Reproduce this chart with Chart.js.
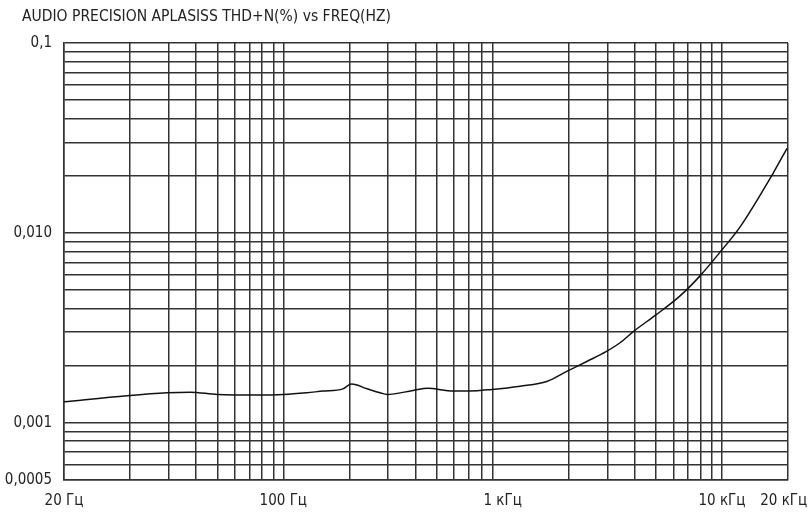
<!DOCTYPE html>
<html>
<head>
<meta charset="utf-8">
<script src="https://cdn.jsdelivr.net/npm/chart.js@4.4.1/dist/chart.umd.min.js"></script>
<style>
    body { margin: 0; background: #fff; }
    #wrap { position: relative; width: 808px; height: 513px; overflow: hidden; }
    #title {
        position: absolute; left: 22px; top: 7px;
        font-family: 'Liberation Sans Narrow', 'DejaVu Sans Condensed', sans-serif;
        font-size: 15.5px; color: #222; white-space: nowrap;
    }
</style>
</head>
<body>
<div id="wrap">
    <div id="title">AUDIO PRECISION APLASISS THD+N(%) vs FREQ(HZ)</div>
    <canvas id="thdChart" width="808" height="513"></canvas>
</div>
<script>
// Данные кривой THD+N
const freqs = [10, 19.4, 29.5, 37.6, 50, 78, 100, 128, 152, 187, 197, 205, 241, 276, 297,
    390, 455, 594, 710, 895, 1200, 1590, 1970, 2430, 2960, 3430, 3980, 5000, 6440, 7940,
    10000, 12100, 17100, 19800];
const thd = [0.00129, 0.00139, 0.00144, 0.00145, 0.00141, 0.00140, 0.00141, 0.00144, 0.00147,
    0.00151, 0.00157, 0.00160, 0.00151, 0.00144, 0.00141, 0.00148, 0.00152, 0.00147, 0.00147,
    0.00150, 0.00156, 0.00165, 0.00187, 0.00211, 0.00237, 0.00264, 0.00305, 0.00370, 0.00466,
    0.00594, 0.00815, 0.01076, 0.0206, 0.0279];

// Подписи осей (пробел в конце сдвигает подпись 20 кГц влево, как на оригинале)
const xTickValues = [10, 100, 1000, 10000, 20000];
const xTickLabels = ['20 Гц', '100 Гц', '1 кГц', '10 кГц', '20 кГц\u00A0\u00A0'];
const yTickValues = [0.0005, 0.001, 0.01, 0.1];
const yTickLabels = ['0,0005', '0,001', '0,010', '0,1'];

// Сетка: 1..9 в каждой декаде
const xGrid = [10];
[10, 100, 1000].forEach(d => { for (let k = 2; k <= 10; k++) xGrid.push(d * k); });
xGrid.push(20000);
const yGrid = [];
[0.0001, 0.001, 0.01].forEach(d => { for (let k = 1; k <= 9; k++) if (d * k >= 0.0005) yGrid.push(+(d * k).toPrecision(3)); });
yGrid.push(0.1);

const font = { family: "'Liberation Sans Narrow', 'DejaVu Sans Condensed', sans-serif", size: 15 };
const gridColor = '#333';

function labelFor(values, labels, v) {
    const i = values.findIndex(t => Math.abs(t - v) / t < 1e-6);
    return i >= 0 ? labels[i] : '';
}

new Chart(document.getElementById('thdChart'), {
    type: 'line',
    data: {
        datasets: [{
            data: freqs.map((f, i) => ({ x: f, y: thd[i] })),
            borderColor: '#111',
            borderWidth: 1.5,
            pointRadius: 0,
            cubicInterpolationMode: 'monotone',
            fill: false
        }]
    },
    options: {
        responsive: false,
        animation: false,
        layout: { padding: { left: 0, top: 43, right: 20, bottom: 0 } },
        plugins: { legend: { display: false }, tooltip: { enabled: false } },
        scales: {
            x: {
                type: 'logarithmic',
                min: 10,
                max: 20000,
                afterBuildTicks: s => { s.ticks = xGrid.map(v => ({ value: v })); },
                afterFit: s => { s.height = 33; s.paddingLeft = 0; s.paddingRight = 0; },
                grid: {
                    drawTicks: false,
                    lineWidth: 1.5,
                    // линия 1 кГц на оригинале отсутствует
                    color: c => (c.tick && c.tick.value === 1000) ? 'rgba(0,0,0,0)' : gridColor
                },
                border: { color: gridColor, width: 1.5 },
                ticks: {
                    autoSkip: false,
                    maxRotation: 0,
                    padding: 12,
                    color: '#222',
                    font: font,
                    callback: v => labelFor(xTickValues, xTickLabels, v)
                }
            },
            y: {
                type: 'logarithmic',
                min: 0.0005,
                max: 0.1,
                afterBuildTicks: s => { s.ticks = yGrid.map(v => ({ value: v })); },
                afterFit: s => { s.width = 64; s.paddingTop = 0; s.paddingBottom = 0; },
                grid: { drawTicks: false, lineWidth: 1.5, color: gridColor },
                border: { color: gridColor, width: 1.5 },
                ticks: {
                    autoSkip: false,
                    padding: 12,
                    color: '#222',
                    font: font,
                    callback: v => labelFor(yTickValues, yTickLabels, v)
                }
            }
        }
    }
});
</script>
</body>
</html>
